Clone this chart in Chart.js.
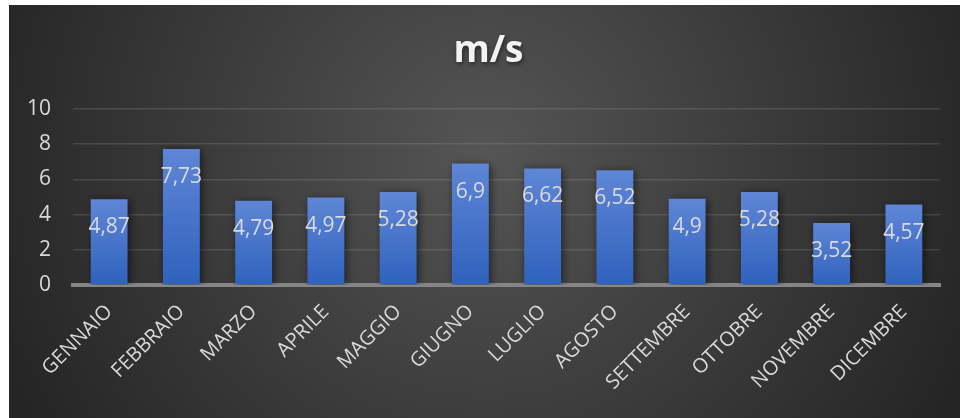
<!DOCTYPE html>
<html>
<head>
<meta charset="utf-8">
<script src="https://cdn.jsdelivr.net/npm/chart.js@4/dist/chart.umd.min.js"></script>
<style>
  html, body { margin: 0; padding: 0; background: #fff; }
  #wrap { position: absolute; left: 9px; top: 5px; width: 951px; height: 413px; }
</style>
</head>
<body>
<div id="wrap"><canvas id="myChart" width="951" height="413"></canvas></div>
<script>
const months = ['GENNAIO', 'FEBBRAIO', 'MARZO', 'APRILE', 'MAGGIO', 'GIUGNO',
                'LUGLIO', 'AGOSTO', 'SETTEMBRE', 'OTTOBRE', 'NOVEMBRE', 'DICEMBRE'];
const speeds = [4.87, 7.73, 4.79, 4.97, 5.28, 6.9, 6.62, 6.52, 4.9, 5.28, 3.52, 4.57];
const yTicks = [0, 2, 4, 6, 8, 10];
const chartTitle = 'm/s';

// dark radial backdrop behind everything
const backdrop = {
    id: 'backdrop',
    beforeDraw: (chart) => {
        const ctx = chart.ctx;
        const w = chart.width, h = chart.height;
        const g = ctx.createRadialGradient(w / 2, 150, 0, w / 2, 150, 520);
        g.addColorStop(0, '#555555');
        g.addColorStop(1, '#252525');
        ctx.save();
        ctx.fillStyle = g;
        ctx.fillRect(0, 0, w, h);
        ctx.restore();
    }
};

// title centred over the whole panel, with a faint shadow
const panelTitle = {
    id: 'panelTitle',
    afterDraw: (chart) => {
        const ctx = chart.ctx;
        ctx.save();
        ctx.font = 'bold 37px "Open Sans"';
        ctx.fillStyle = '#f2f2f2';
        ctx.textAlign = 'center';
        ctx.textBaseline = 'middle';
        ctx.shadowColor = 'rgba(0, 0, 0, 0.5)';
        ctx.shadowBlur = 4;
        ctx.shadowOffsetX = 1;
        ctx.shadowOffsetY = 2;
        ctx.fillText(chartTitle, chart.width / 2 + 4, 46);
        ctx.restore();
    }
};

// soft shadow under the bars
const barShadow = {
    id: 'barShadow',
    beforeDatasetsDraw: (chart) => {
        const ctx = chart.ctx;
        ctx.save();
        ctx.shadowColor = 'rgba(0, 0, 0, 0.55)';
        ctx.shadowBlur = 8;
        ctx.shadowOffsetX = 2;
        ctx.shadowOffsetY = 1;
    },
    afterDatasetsDraw: (chart) => {
        chart.ctx.restore();
    }
};

// value written inside the top of each bar, decimal comma
const valueLabels = {
    id: 'valueLabels',
    afterDatasetsDraw: (chart) => {
        const ctx = chart.ctx;
        const meta = chart.getDatasetMeta(0);
        ctx.save();
        ctx.font = '21px "Open Sans"';
        ctx.fillStyle = '#dadada';
        ctx.textAlign = 'center';
        ctx.textBaseline = 'middle';
        meta.data.forEach((bar, i) => {
            ctx.fillText(String(speeds[i]).replace('.', ','), bar.x, bar.y + 28);
        });
        ctx.restore();
    }
};

const barFill = (context) => {
    const chart = context.chart;
    const y = chart.scales.y;
    if (!chart.chartArea || !y || context.raw === undefined) {
        return '#4472c4';
    }
    const top = y.getPixelForValue(context.raw);
    const bottom = y.getPixelForValue(0);
    const g = chart.ctx.createLinearGradient(0, top, 0, bottom);
    g.addColorStop(0, '#5f86d6');
    g.addColorStop(1, '#2f62bd');
    return g;
};

const ctx = document.getElementById('myChart').getContext('2d');

const data = {
    labels: months,
    datasets: [{
        label: chartTitle,
        data: speeds,
        backgroundColor: barFill,
        borderWidth: 0,
        categoryPercentage: 1,
        barPercentage: 0.51,
    }]
};

const options = {
    type: 'bar',
    data: data,
    options: {
        responsive: false,
        animation: false,
        layout: { padding: { left: 0, right: 20, top: 104, bottom: 0 } },
        plugins: {
            legend: { display: false },
            tooltip: { enabled: false },
            title: { display: false }
        },
        scales: {
            x: {
                grid: { display: false, drawTicks: false },
                border: { display: true, color: '#868686', width: 4 },
                ticks: {
                    color: '#d9d9d9',
                    font: { family: '"Open Sans"', size: 20 },
                    minRotation: 45,
                    maxRotation: 45,
                    padding: 15,
                    autoSkip: false
                },
                afterFit: (scale) => { scale.height = 133; }
            },
            y: {
                min: 0,
                max: 10,
                grid: { color: 'rgba(217, 217, 217, 0.15)', lineWidth: 1.5, drawTicks: false },
                border: { display: false },
                ticks: {
                    color: '#d9d9d9',
                    font: { family: '"Open Sans"', size: 21 },
                    padding: 22
                },
                afterBuildTicks: (scale) => {
                    scale.ticks = yTicks.map(v => ({ value: v }));
                },
                afterFit: (scale) => { scale.width = 64; }
            }
        }
    },
    plugins: [backdrop, barShadow, valueLabels, panelTitle]
};

const chart = new Chart(ctx, options);
</script>
</body>
</html>
